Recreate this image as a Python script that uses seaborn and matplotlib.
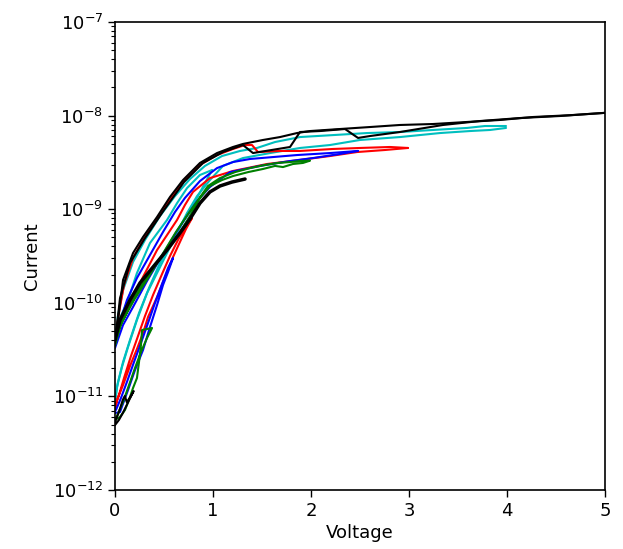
import matplotlib
matplotlib.use("Agg")
import matplotlib.pyplot as plt
import seaborn as sns
import pandas as pd
from matplotlib.ticker import LogLocator, NullFormatter, FixedLocator

# ---- I-V sweeps (voltage in V, current in A) ----
# black: 5 V sweep (return and forward), 1.33 V sweep, 0.2 V sweep
black_5v_ret_v = [0, 0.031, 0.082, 0.184, 0.286, 0.429, 0.561, 0.694, 0.867, 1.041, 1.204, 1.306,
                  1.51, 1.684, 1.857, 1.99, 2.296, 2.602, 2.908, 3.245, 3.592, 3.929, 4.265, 4.643, 5.0]
black_5v_ret_i = [4.01e-11, 6.55e-11, 1.75e-10, 3.40e-10, 5.05e-10, 8.26e-10, 1.35e-9, 2.05e-9, 3.12e-9,
                  3.98e-9, 4.62e-9, 4.98e-9, 5.49e-9, 5.90e-9, 6.51e-9, 6.84e-9, 7.19e-9, 7.55e-9,
                  7.94e-9, 8.13e-9, 8.55e-9, 8.98e-9, 9.66e-9, 1.01e-8, 1.07e-8]
black_5v_fwd_v = [0, 0.051, 0.153, 0.306, 0.50, 0.704, 0.898, 1.102, 1.306, 1.408, 1.786, 1.888,
                  2.092, 2.347, 2.480, 2.602, 2.908, 3.347, 3.724, 4.133, 4.541, 5.0]
black_5v_fwd_i = [3.72e-11, 1.12e-10, 2.66e-10, 4.92e-10, 9.80e-10, 1.95e-9, 3.12e-9, 4.08e-9, 4.85e-9,
                  3.98e-9, 4.62e-9, 6.68e-9, 6.84e-9, 7.19e-9, 5.77e-9, 6.05e-9, 6.68e-9, 7.94e-9,
                  8.75e-9, 9.42e-9, 9.90e-9, 1.07e-8]
black_1v3_v = [0, 0.051, 0.153, 0.255, 0.388, 0.531, 0.663, 0.765, 0.867, 0.969, 1.071, 1.194, 1.327]
black_1v3_i = [4.01e-11, 6.55e-11, 1.07e-10, 1.63e-10, 2.41e-10, 3.66e-10, 5.57e-10, 7.86e-10,
               1.16e-9, 1.53e-9, 1.77e-9, 1.95e-9, 2.10e-9]
black_0v2_v = [0, 0.04, 0.08, 0.12, 0.16, 0.19, 0.15, 0.12, 0.10, 0.08, 0.04, 0]
black_0v2_i = [4.94e-12, 5.6e-12, 6.65e-12, 8.09e-12, 9.86e-12, 1.14e-11, 9.62e-12, 8.71e-12,
               1.01e-11, 9.2e-12, 6.81e-12, 5.32e-12]

# cyan: 4 V sweep and 1 V sweep
cyan_4v_ret_v = [0, 0.031, 0.082, 0.184, 0.306, 0.459, 0.612, 0.765, 0.918, 1.092, 1.276, 1.449,
                 1.633, 1.888, 2.245, 2.571, 2.908, 3.245, 3.592, 3.776, 3.99]
cyan_4v_ret_i = [4.32e-11, 7.41e-11, 1.37e-10, 2.73e-10, 4.69e-10, 8.46e-10, 1.38e-9, 2.10e-9, 2.90e-9,
                 3.70e-9, 4.19e-9, 4.51e-9, 5.22e-9, 5.90e-9, 6.21e-9, 6.51e-9, 6.68e-9, 7.02e-9,
                 7.38e-9, 7.74e-9, 7.74e-9]
cyan_4v_fwd_v = [0, 0.020, 0.071, 0.133, 0.224, 0.327, 0.429, 0.531, 0.633, 0.735, 0.837, 0.969,
                 1.102, 1.306, 1.582, 1.888, 2.194, 2.5, 2.908, 3.316, 3.622, 3.827, 3.99]
cyan_4v_fwd_i = [7.9e-12, 1.26e-11, 2.06e-11, 3.37e-11, 6.55e-11, 1.27e-10, 2.08e-10, 3.40e-10,
                 5.57e-10, 9.10e-10, 1.38e-9, 2.05e-9, 2.90e-9, 3.52e-9, 3.98e-9, 4.51e-9, 4.85e-9,
                 5.49e-9, 5.90e-9, 6.51e-9, 6.84e-9, 7.02e-9, 7.38e-9]
cyan_1v_ret_v = [0, 0.051, 0.133, 0.224, 0.357, 0.531, 0.633, 0.735, 0.867, 0.99]
cyan_1v_ret_i = [4.42e-11, 6.88e-11, 1.07e-10, 2.08e-10, 4.35e-10, 7.67e-10, 1.16e-9, 1.68e-9,
                 2.32e-9, 2.62e-9]
cyan_1v_fwd_v = [0, 0.031, 0.082, 0.153, 0.245, 0.347, 0.459, 0.582, 0.714, 0.847, 0.99]
cyan_1v_fwd_i = [9.37e-12, 1.43e-11, 2.33e-11, 4.01e-11, 7.78e-11, 1.44e-10, 2.66e-10, 4.69e-10,
                 8.05e-10, 1.38e-9, 2.62e-9]

# red: 3 V sweep and 0.8 V sweep
red_3v_ret_v = [0, 0.031, 0.092, 0.184, 0.286, 0.429, 0.561, 0.694, 0.867, 1.041, 1.204, 1.327,
                1.398, 1.459, 1.684, 1.888, 2.224, 2.5, 2.806, 2.99]
red_3v_ret_i = [3.81e-11, 6.88e-11, 1.55e-10, 3.01e-10, 4.69e-10, 7.86e-10, 1.28e-9, 1.95e-9, 2.97e-9,
                3.79e-9, 4.40e-9, 4.85e-9, 4.85e-9, 4.08e-9, 4.19e-9, 4.19e-9, 4.40e-9, 4.51e-9,
                4.62e-9, 4.51e-9]
red_3v_fwd_v = [0, 0.051, 0.153, 0.286, 0.429, 0.531, 0.633, 0.714, 0.796, 0.969, 1.204, 1.551,
                1.888, 2.194, 2.469, 2.755, 2.99]
red_3v_fwd_i = [3.46e-11, 6.24e-11, 9.95e-11, 1.89e-10, 3.66e-10, 5.30e-10, 7.67e-10, 1.11e-9,
                1.53e-9, 2.15e-9, 2.56e-9, 3.04e-9, 3.36e-9, 3.70e-9, 4.08e-9, 4.29e-9, 4.51e-9]
red_0v8_v = [0, 0.020, 0.082, 0.153, 0.224, 0.286, 0.337, 0.429, 0.531, 0.592, 0.663, 0.724, 0.786,
             0.724, 0.643, 0.561, 0.480, 0.388, 0.306, 0.235, 0.163, 0.092, 0.041, 0]
red_0v8_i = [7.16e-12, 9.16e-12, 1.32e-11, 2.11e-11, 3.21e-11, 4.75e-11, 7.05e-11, 1.15e-10, 2.13e-10,
             3.08e-10, 4.47e-10, 6.14e-10, 8.05e-10, 6.62e-10, 4.69e-10, 3.16e-10, 2.03e-10,
             1.21e-10, 7.22e-11, 4.42e-11, 2.70e-11, 1.57e-11, 1.04e-11, 7.70e-12]

# blue: 2.5 V sweep and 0.6 V sweep
blue_2v5_ret_v = [0, 0.051, 0.122, 0.224, 0.357, 0.49, 0.612, 0.714, 0.867, 1.041, 1.204, 1.378,
                  1.857, 2.194, 2.480]
blue_2v5_ret_i = [3.72e-11, 6.24e-11, 1.07e-10, 1.84e-10, 3.24e-10, 5.71e-10, 9.33e-10, 1.32e-9,
                  2.00e-9, 2.75e-9, 3.19e-9, 3.44e-9, 3.79e-9, 3.98e-9, 4.19e-9]
blue_2v5_fwd_v = [0, 0.082, 0.184, 0.327, 0.490, 0.633, 0.735, 0.837, 0.969, 1.173, 1.480, 1.786,
                  2.020, 2.296, 2.48]
blue_2v5_fwd_i = [3.29e-11, 5.79e-11, 9.02e-11, 1.71e-10, 3.32e-10, 5.85e-10, 8.46e-10, 1.22e-9,
                  1.73e-9, 2.49e-9, 2.90e-9, 3.27e-9, 3.52e-9, 3.89e-9, 4.19e-9]
blue_0v6_v = [0, 0.051, 0.133, 0.204, 0.286, 0.357, 0.429, 0.490, 0.541, 0.592,
              0.541, 0.480, 0.408, 0.337, 0.265, 0.194, 0.122, 0.061, 0.010]
blue_0v6_i = [6.65e-12, 6.81e-12, 1.17e-11, 1.91e-11, 3.13e-11, 5.51e-11, 9.46e-11, 1.55e-10,
              2.13e-10, 3.01e-10, 2.35e-10, 1.59e-10, 9.95e-11, 6.08e-11, 3.72e-11, 2.33e-11,
              1.43e-11, 9.62e-12, 7.16e-12]

# green: 2 V sweep and 0.38 V sweep
green_2v_v = [0, 0.051, 0.153, 0.255, 0.388, 0.531, 0.663, 0.765, 0.867, 0.969, 1.092, 1.204, 1.357,
              1.510, 1.633, 1.714, 1.816, 1.918, 1.99,
              1.888, 1.786, 1.663, 1.531, 1.378, 1.224, 1.071, 0.949, 0.847, 0.745, 0.622, 0.480,
              0.337, 0.194, 0.071, 0]
green_2v_i = [3.46e-11, 5.65e-11, 9.24e-11, 1.48e-10, 2.35e-10, 3.66e-10, 5.71e-10, 8.46e-10, 1.32e-9,
              1.77e-9, 2.05e-9, 2.26e-9, 2.49e-9, 2.69e-9, 2.90e-9, 2.82e-9, 3.04e-9, 3.12e-9, 3.30e-9,
              3.27e-9, 3.19e-9, 3.12e-9, 2.97e-9, 2.75e-9, 2.49e-9, 2.15e-9, 1.77e-9, 1.25e-9,
              8.87e-10, 5.71e-10, 3.24e-10, 1.84e-10, 1.07e-10, 6.24e-11, 3.81e-11]
green_0v4_v = [0, 0.051, 0.102, 0.153, 0.184, 0.224, 0.245, 0.265, 0.276, 0.327, 0.378,
               0.327, 0.265, 0.204, 0.143, 0.082, 0.020, 0]
green_0v4_i = [5.61e-12, 6.03e-12, 7.16e-12, 9.86e-12, 1.23e-11, 1.57e-11, 2.33e-11, 3.54e-11,
               5.12e-11, 5.25e-11, 5.38e-11, 4.21e-11, 2.98e-11, 2.01e-11, 1.32e-11, 8.71e-12,
               6.18e-12, 5.48e-12]

x_ticks = [0, 1, 2, 3, 4, 5]

sweeps = [
    (cyan_1v_fwd_v, cyan_1v_fwd_i, "c", 1.5),
    (cyan_1v_ret_v, cyan_1v_ret_i, "c", 1.5),
    (cyan_4v_fwd_v, cyan_4v_fwd_i, "c", 1.5),
    (cyan_4v_ret_v, cyan_4v_ret_i, "c", 1.5),
    (red_0v8_v, red_0v8_i, "r", 1.5),
    (red_3v_fwd_v, red_3v_fwd_i, "r", 1.5),
    (red_3v_ret_v, red_3v_ret_i, "r", 1.5),
    (blue_0v6_v, blue_0v6_i, "b", 1.5),
    (blue_2v5_fwd_v, blue_2v5_fwd_i, "b", 1.5),
    (blue_2v5_ret_v, blue_2v5_ret_i, "b", 1.5),
    (green_0v4_v, green_0v4_i, "g", 1.5),
    (green_2v_v, green_2v_i, "g", 1.5),
    (black_0v2_v, black_0v2_i, "k", 1.5),
    (black_1v3_v, black_1v3_i, "k", 2.5),
    (black_5v_fwd_v, black_5v_fwd_i, "k", 1.5),
    (black_5v_ret_v, black_5v_ret_i, "k", 1.5),
]

sns.set_style("ticks")
plt.rcParams["font.family"] = ["DejaVu Sans"]
plt.rcParams.update({"text.color": "black", "axes.labelcolor": "black",
                     "xtick.color": "black", "ytick.color": "black"})

fig = plt.figure(figsize=(6.23, 5.49), dpi=100)
ax = fig.add_axes([115 / 623, 59 / 549, 490 / 623, 468 / 549])

for v, i, color, lw in sweeps:
    df = pd.DataFrame({"Voltage": v, "Current": i})
    sns.lineplot(data=df, x="Voltage", y="Current", sort=False, estimator=None,
                 color=color, linewidth=lw, ax=ax)

ax.set_yscale("log")
ax.set_xlim(0, 5)
ax.set_ylim(1e-12, 1e-7)
ax.xaxis.set_major_locator(FixedLocator(x_ticks))
ax.yaxis.set_major_locator(LogLocator(base=10, numticks=10))
ax.yaxis.set_minor_locator(LogLocator(base=10, subs=range(2, 10), numticks=20))
ax.yaxis.set_minor_formatter(NullFormatter())

ax.set_xlabel("Voltage", fontsize=13, labelpad=3, color="black")
ax.set_ylabel("Current", fontsize=13, labelpad=8, color="black")
ax.tick_params(axis="both", which="major", labelsize=13, direction="out", length=5, width=1,
               top=False, right=False, color="black", labelcolor="black")
ax.tick_params(axis="y", which="minor", direction="out", length=3, width=0.8, right=False,
               color="black")
for s in ax.spines.values():
    s.set_linewidth(1.2)
    s.set_color("black")

fig.savefig("out.png", dpi=100)
